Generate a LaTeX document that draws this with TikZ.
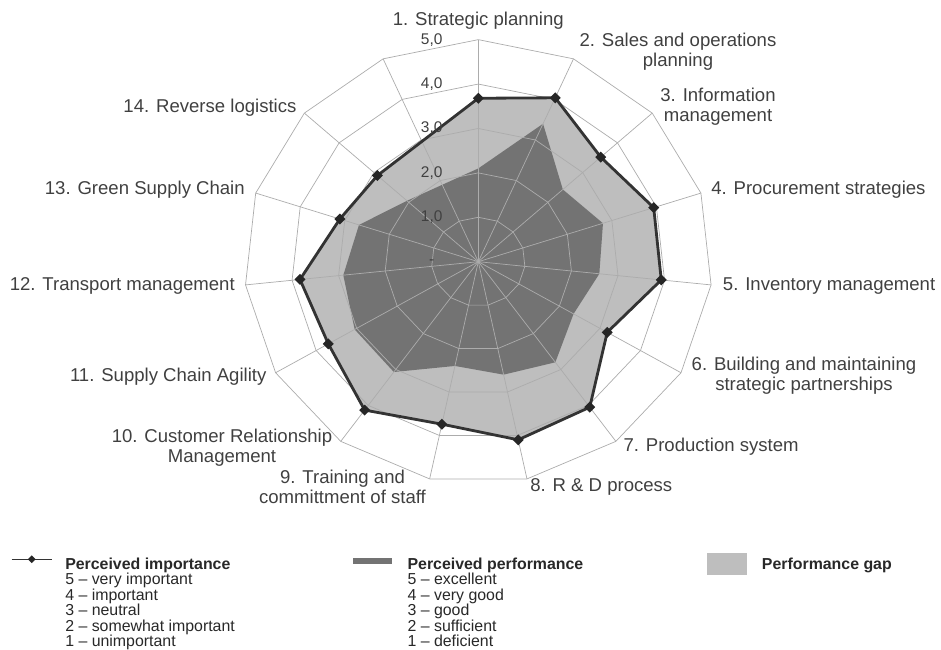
\documentclass[tikz,border=0pt]{standalone}
\usepackage{fontspec}
\setmainfont{Liberation Sans}
\usetikzlibrary{shapes.geometric}
\definecolor{labelgray}{RGB}{64,64,64}
\definecolor{leggray}{RGB}{40,40,40}
\definecolor{gapgray}{RGB}{190,190,190}
\definecolor{perfgray}{RGB}{115,115,115}
\definecolor{gridgray}{RGB}{172,172,172}
\tikzset{
	gridline/.style={line width=0.5pt, color=gridgray},
	impline/.style={line width=2pt, color=black!80, line join=round},
	dmark/.style={diamond, fill=black!85, inner sep=0pt, minimum size=0.28cm},
	catlabel/.style={inner sep=0pt, align=center, font=\fontsize{13.2}{14.2}\selectfont, text=labelgray},
	lvllabel/.style={inner sep=0pt, font=\fontsize{11}{12}\selectfont, text=labelgray},
	legtext/.style={inner sep=0pt, anchor=base west, font=\fontsize{11.3}{12}\selectfont, text=leggray},
}
% one ring of the 15-spoke grid
\def\ring(#1){\draw[gridline] (90:#1) \foreach \k in {1,...,14}{ -- ({90-24*\k}:#1)} -- cycle;}

\begin{document}
\begin{tikzpicture}[x=0.025cm, y=-0.025cm]
			%%%%% START %%%%%
			\useasboundingbox (0,0) rectangle (941,650);
			
			\begin{scope}[shift={(478.3,261.7)}, x=1.17cm, y=1.11cm]
				% importance and performance per axis
				\foreach \v [count=\k] in {3.68,4.04,3.52,3.94,3.93,3.18,4.05,4.10,3.74,4.13,3.70,3.83,3.11,2.90}
					\coordinate (imp\k) at ({90-24*(\k-1)}:\v);
				\foreach \v [count=\k] in {2.10,3.40,2.43,2.80,2.60,2.35,2.80,2.60,2.40,3.07,3.05,2.90,2.68,2.05}
					\coordinate (perf\k) at ({90-24*(\k-1)}:\v);
				
				\fill[gapgray] (imp1) \foreach \k in {2,...,14}{ -- (imp\k)} -- cycle;
				\fill[perfgray] (perf1) \foreach \k in {2,...,14}{ -- (perf\k)} -- cycle;
				
				\foreach \r in {1,...,5} \ring(\r);
				\foreach \k in {0,...,14} \draw[gridline] (0,0) -- ({90-24*\k}:5);
				
				\draw[impline] (imp1) \foreach \k in {2,...,14}{ -- (imp\k)} -- cycle;
				\foreach \k in {1,...,14} \node[dmark] (mk\k) at (imp\k) {};
			\end{scope}
			
			\foreach \v/\t in {0/-, 1/{1,0}, 2/{2,0}, 3/{3,0}, 4/{4,0}, 5/{5,0}}
				\node[lvllabel] (lvl\v) at (431.7, {261.7-44.4*\v}) {\t};
			
			\node[catlabel] (lab1) at (478.3, 20.7) {1. Strategic planning};
			\node[catlabel] (lab2) at (678, 51.7) {2. Sales and operations\\planning};
			\node[catlabel] (lab3) at (718, 106.7) {3. Information\\management};
			\node[catlabel, anchor=west] (lab4) at (711, 190) {4. Procurement strategies};
			\node[catlabel, anchor=west] (lab5) at (722.7, 286) {5. Inventory management};
			\node[catlabel] (lab6) at (804, 376) {6. Building and maintaining\\strategic partnerships};
			\node[catlabel, anchor=west] (lab7) at (623.3, 446.7) {7. Production system};
			\node[catlabel, anchor=west] (lab8) at (530, 486.7) {8. R \& D process};
			\node[catlabel] (lab9) at (342.5, 486.7) {9. Training and\\committment of staff};
			\node[catlabel] (lab10) at (222, 447.7) {10. Customer Relationship\\Management};
			\node[catlabel, anchor=east] (lab11) at (266.7, 376.7) {11. Supply Chain Agility};
			\node[catlabel, anchor=east] (lab12) at (235, 286) {12. Transport management};
			\node[catlabel, anchor=east] (lab13) at (245, 190) {13. Green Supply Chain};
			\node[catlabel, anchor=east] (lab14) at (296.7, 107.3) {14. Reverse logistics};
			
			% legend
			\coordinate (lgA) at (11.7, 559.3);
			\coordinate (lgB) at (51.7, 559.3);
			\draw[line width=1pt, color=black!80] (lgA) -- (lgB);
			\node[dmark, minimum size=0.2cm] (lgmk) at (31.7, 559.3) {};
			\node[legtext] (impHead) at (65, 569.5) {\textbf{Perceived importance}};
			\foreach \t [count=\i] in {5 – very important, 4 – important, 3 – neutral, 2 – somewhat important, 1 – unimportant}
				\node[legtext] (impL\i) at (65, {569.5+15.4*\i}) {\t};
			
			\fill[perfgray] (352.7, 558.3) rectangle (391.7, 564);
			\node[legtext] (perfHead) at (407.3, 569.5) {\textbf{Perceived performance}};
			\foreach \t [count=\i] in {5 – excellent, 4 – very good, 3 – good, 2 – sufficient, 1 – deficient}
				\node[legtext] (perfL\i) at (407.3, {569.5+15.4*\i}) {\t};
			
			\fill[gapgray] (706.7, 552.7) rectangle (746.7, 575);
			\node[legtext] (gapHead) at (761.7, 569.5) {\textbf{Performance gap}};
			
			%%%%% END %%%%%
\end{tikzpicture}
\end{document}
